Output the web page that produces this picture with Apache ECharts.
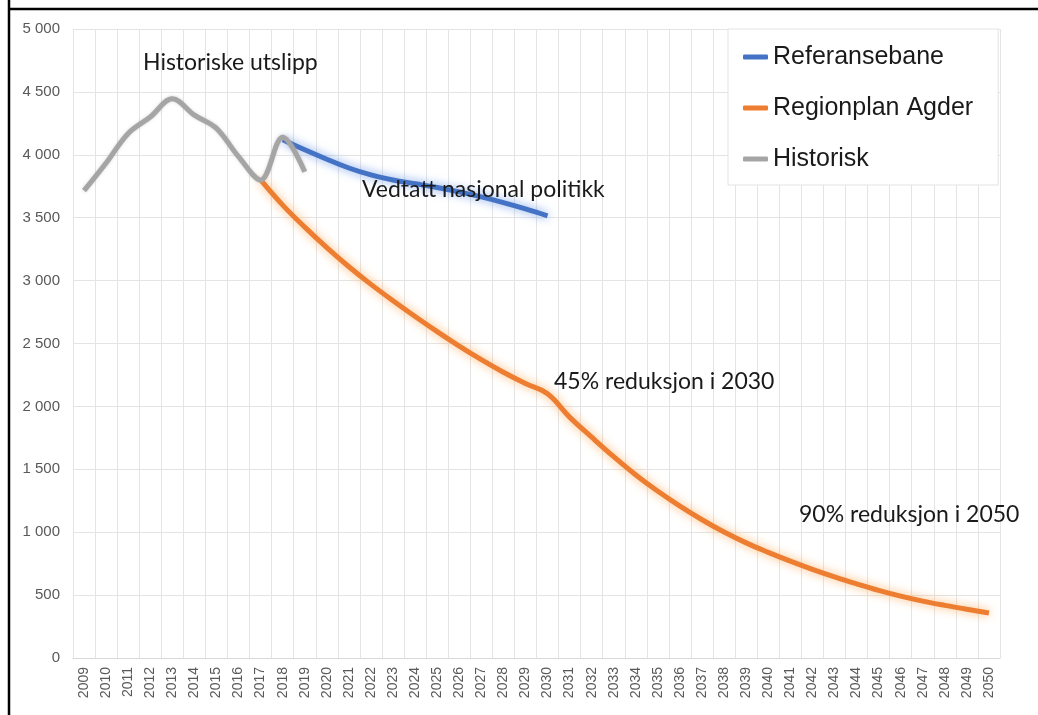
<!DOCTYPE html>
<html>
<head>
<meta charset="utf-8">
<script src="https://cdn.jsdelivr.net/npm/echarts@6/dist/echarts.min.js"></script>
<style>
  html, body { margin: 0; padding: 0; background: #fff; }
  #chart { width: 1038px; height: 715px; }
</style>
</head>
<body>
<div id="chart"></div>
<script>
// years on the x axis
var years = [];
for (var y = 2009; y <= 2050; y++) years.push(String(y));

// Historisk 2009-2019
var historisk = [3715, 3935, 4170, 4300, 4445, 4315, 4210, 3985, 3800, 4140, 3865];
// Referansebane 2018-2030
var referansebane = [4120, 4040, 3965, 3895, 3840, 3800, 3770, 3740, 3705, 3665, 3620, 3570, 3515];
// Regionplan Agder 2017-2050
var regionplan = [3800, 3600, 3425, 3262, 3110, 2970, 2840, 2715, 2595, 2480, 2372, 2272, 2182, 2100,
  1915, 1755, 1600, 1455, 1325, 1207, 1099, 1001, 915, 840, 770, 705, 645, 590, 538, 492, 452, 418, 387, 358];

var yTicks = { min: 0, max: 5000, step: 500 };

function place(values, startYear) {
  var out = years.map(function () { return '-'; });
  var off = years.indexOf(String(startYear));
  values.forEach(function (v, i) { out[off + i] = v; });
  return out;
}

function fmt(v) {
  if (v < 1000) return String(v);
  var r = String(v % 1000);
  while (r.length < 3) r = '0' + r;
  return Math.floor(v / 1000) + ' ' + r;
}

var myChart = echarts.init(document.getElementById('chart'));
var option = {
  backgroundColor: '#fff',
  animation: false,
  grid: { left: 73, right: 38, top: 29, bottom: 57 },
  legend: {
    data: ['Referansebane', 'Regionplan Agder', 'Historisk'],
    orient: 'vertical',
    left: 728,
    top: 29,
    padding: [14, 25, 12, 15],
    itemGap: 23,
    itemWidth: 25,
    itemHeight: 5,
    icon: 'roundRect',
    backgroundColor: '#fff',
    borderColor: '#e3e3e3',
    borderWidth: 1,
    textStyle: { fontFamily: 'Liberation Sans', fontSize: 25, color: '#1a1a1a', lineHeight: 28 }
  },
  xAxis: {
    type: 'category',
    data: years,
    boundaryGap: true,
    axisTick: { show: false },
    axisLine: { lineStyle: { color: '#d9d9d9' } },
    axisLabel: { interval: 0, rotate: 90, fontFamily: 'Liberation Sans', fontSize: 14, color: '#595959', margin: 9 },
    splitLine: { show: true, interval: 0, lineStyle: { color: '#e4e4e4' } }
  },
  yAxis: {
    type: 'value',
    min: yTicks.min,
    max: yTicks.max,
    interval: yTicks.step,
    axisLine: { show: false },
    axisTick: { show: false },
    axisLabel: { fontFamily: 'Liberation Sans', fontSize: 15, color: '#595959', margin: 13, formatter: fmt },
    splitLine: { lineStyle: { color: '#e4e4e4' } }
  },
  series: [
    {
      name: 'Regionplan Agder',
      type: 'line',
      data: place(regionplan, 2017),
      smooth: 0.4,
      showSymbol: false,
      color: '#ED7D31',
      lineStyle: { width: 5, color: '#ED7D31', shadowBlur: 10, shadowColor: 'rgba(255,165,80,0.8)' },
      z: 2
    },
    {
      name: 'Referansebane',
      type: 'line',
      data: place(referansebane, 2018),
      smooth: 0.4,
      showSymbol: false,
      color: '#4472C4',
      lineStyle: { width: 5, color: '#4472C4', shadowBlur: 10, shadowColor: 'rgba(90,140,230,0.8)' },
      z: 3
    },
    {
      name: 'Historisk',
      type: 'line',
      data: place(historisk, 2009),
      smooth: 0.35,
      showSymbol: false,
      color: '#A5A5A5',
      lineStyle: { width: 5, color: '#A5A5A5', shadowBlur: 3, shadowColor: 'rgba(165,165,165,0.5)' },
      z: 4
    }
  ],
  graphic: [
    { type: 'line', shape: { x1: 9, y1: 0, x2: 9, y2: 715 }, style: { stroke: '#000', lineWidth: 2.5 }, z: 100 },
    { type: 'line', shape: { x1: 8, y1: 9, x2: 1038, y2: 9 }, style: { stroke: '#000', lineWidth: 2.5 }, z: 100 },
    { type: 'text', left: 143, top: 51, style: { text: 'Historiske utslipp', font: '23px Lato', fill: '#1a1a1a' }, z: 50 },
    { type: 'text', left: 362, top: 178, style: { text: 'Vedtatt nasjonal politikk', font: '23px Lato', fill: '#1a1a1a' }, z: 50 },
    { type: 'text', left: 554, top: 370, style: { text: '45% reduksjon i 2030', font: '23px Lato', fill: '#1a1a1a' }, z: 50 },
    { type: 'text', left: 799, top: 503, style: { text: '90% reduksjon i 2050', font: '23px Lato', fill: '#1a1a1a' }, z: 50 }
  ]
};
myChart.setOption(option);
</script>
</body>
</html>
